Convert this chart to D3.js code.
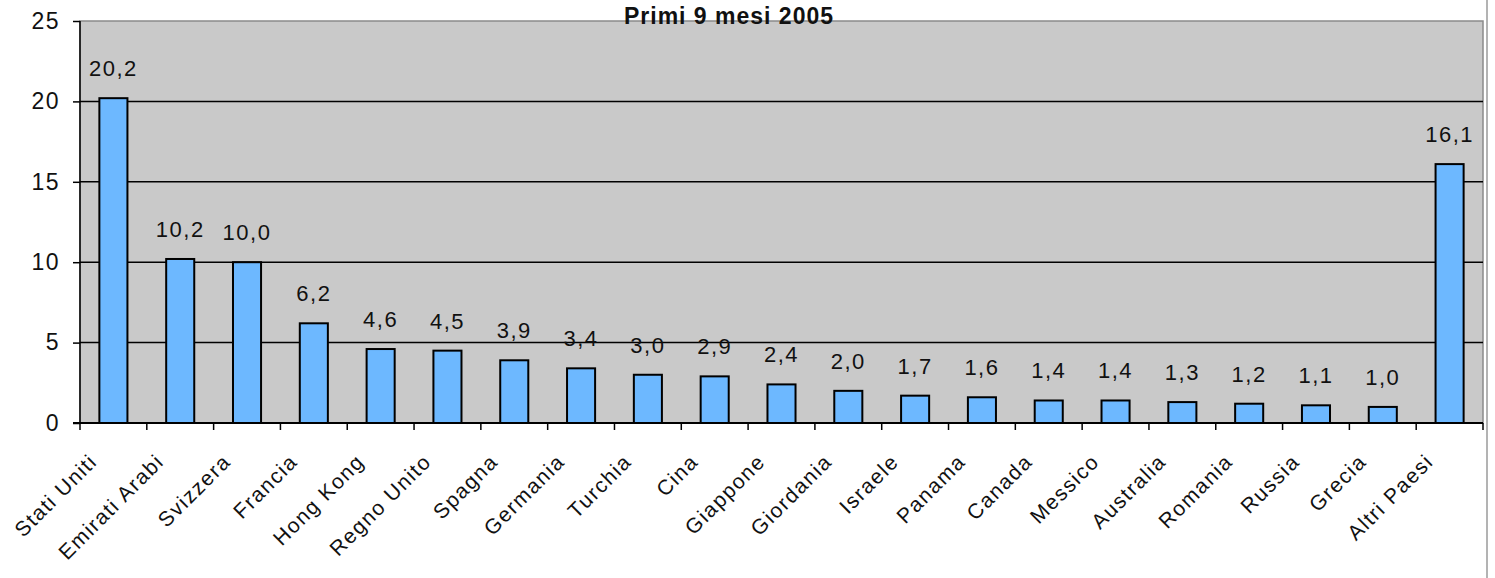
<!DOCTYPE html>
<html>
<head>
<meta charset="utf-8">
<script src="https://cdn.jsdelivr.net/npm/d3@7"></script>
<style>
  body { margin: 0; background: #ffffff; }
  svg { display: block; font-family: Arial, "Liberation Sans", sans-serif; }
</style>
</head>
<body>
<div id="chart"></div>
<script>
const title = 'Primi 9 mesi 2005';
const countries = ['Stati Uniti', 'Emirati Arabi', 'Svizzera', 'Francia', 'Hong Kong', 'Regno Unito',
  'Spagna', 'Germania', 'Turchia', 'Cina', 'Giappone', 'Giordania', 'Israele', 'Panama', 'Canada',
  'Messico', 'Australia', 'Romania', 'Russia', 'Grecia', 'Altri Paesi'];
const values = [20.2, 10.2, 10.0, 6.2, 4.6, 4.5, 3.9, 3.4, 3.0, 2.9, 2.4, 2.0, 1.7, 1.6, 1.4,
  1.4, 1.3, 1.2, 1.1, 1.0, 16.1];
const yTicks = [0, 5, 10, 15, 20, 25];

const width = 1495;
const height = 578;
const plot = { left: 80, right: 1483, top: 21, bottom: 423 };

const svg = d3.select('#chart').append('svg')
  .attr('width', width)
  .attr('height', height);

const x = d3.scaleBand()
  .domain(countries)
  .range([plot.left, plot.right])
  .paddingInner(0.58)
  .paddingOuter(0.29);
const step = x.step();
const y = d3.scaleLinear()
  .domain([0, 25])
  .range([plot.bottom, plot.top]);

// plot background
svg.append('rect')
  .attr('x', plot.left)
  .attr('y', plot.top)
  .attr('width', plot.right - plot.left)
  .attr('height', plot.bottom - plot.top)
  .attr('fill', '#c9c9c9')
  .attr('stroke', '#8a8a8a')
  .attr('stroke-width', 1.5);

// page edge line
svg.append('line')
  .attr('x1', 1487).attr('x2', 1487)
  .attr('y1', 0).attr('y2', height)
  .attr('stroke', '#9a9a9a')
  .attr('stroke-width', 1.5);

// gridlines
svg.append('g')
  .selectAll('line')
  .data(yTicks.filter(d => d > 0 && d < 25))
  .join('line')
    .attr('x1', plot.left)
    .attr('x2', plot.right)
    .attr('y1', d => y(d))
    .attr('y2', d => y(d))
    .attr('stroke', '#000000')
    .attr('stroke-width', 1.5);

// y axis
const yAxis = d3.axisLeft(y)
  .tickValues(yTicks)
  .tickSize(7)
  .tickPadding(13)
  .tickFormat(d => d);
svg.append('g')
  .attr('transform', `translate(${plot.left}, 0)`)
  .call(yAxis)
  .call(g => g.select('.domain').remove())
  .call(g => g.selectAll('.tick line').attr('stroke', '#000').attr('stroke-width', 1.5))
  .call(g => g.selectAll('.tick text')
    .attr('font-size', '23px')
    .attr('fill', '#111')
    .style('letter-spacing', '1.5px'));
svg.append('line')
  .attr('x1', plot.left).attr('x2', plot.left)
  .attr('y1', plot.top).attr('y2', plot.bottom)
  .attr('stroke', '#000')
  .attr('stroke-width', 1.5);

// bars
svg.append('g')
  .selectAll('rect')
  .data(countries)
  .join('rect')
    .attr('x', d => x(d))
    .attr('y', (d, i) => y(values[i]))
    .attr('width', x.bandwidth())
    .attr('height', (d, i) => y(0) - y(values[i]))
    .attr('fill', '#6db8ff')
    .attr('stroke', '#000')
    .attr('stroke-width', 2);

// value labels
const fmt = d3.format('.1f');
svg.append('g')
  .selectAll('text')
  .data(countries)
  .join('text')
    .attr('x', d => x(d) + x.bandwidth() / 2)
    .attr('y', (d, i) => y(values[i]) - 22)
    .attr('text-anchor', 'middle')
    .attr('font-size', '22px')
    .attr('fill', '#111')
    .style('letter-spacing', '1.5px')
    .text((d, i) => fmt(values[i]).replace('.', ','));

// x axis line and category ticks
svg.append('line')
  .attr('x1', plot.left - 7).attr('x2', plot.right)
  .attr('y1', plot.bottom).attr('y2', plot.bottom)
  .attr('stroke', '#000')
  .attr('stroke-width', 2);
svg.append('g')
  .selectAll('line')
  .data(d3.range(countries.length + 1))
  .join('line')
    .attr('x1', i => plot.left + i * step)
    .attr('x2', i => plot.left + i * step)
    .attr('y1', plot.bottom)
    .attr('y2', plot.bottom + 7)
    .attr('stroke', '#000')
    .attr('stroke-width', 1.5);

// category labels
svg.append('g')
  .selectAll('text')
  .data(countries)
  .join('text')
    .attr('transform', d => `translate(${x(d) + x.bandwidth() / 2 - 15}, 463) rotate(-45)`)
    .attr('text-anchor', 'end')
    .attr('font-size', '21px')
    .attr('fill', '#111')
    .style('letter-spacing', '1.5px')
    .text(d => d);

// title
svg.append('text')
  .attr('x', 729)
  .attr('y', 24)
  .attr('text-anchor', 'middle')
  .attr('font-size', '23px')
  .attr('font-weight', 'bold')
  .attr('fill', '#111')
  .style('letter-spacing', '1px')
  .text(title);
</script>
</body>
</html>
